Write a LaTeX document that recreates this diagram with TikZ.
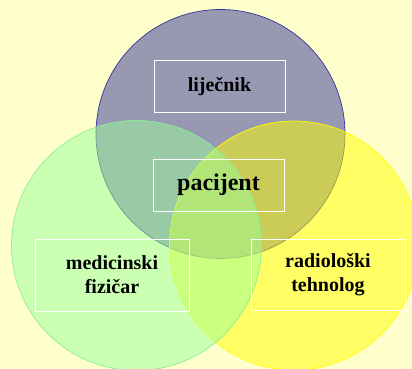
\documentclass[tikz,border=0pt]{standalone}
\usepackage{fontspec}
\setmainfont{Liberation Serif}
\definecolor{bgc}{HTML}{FFFFCC}
\definecolor{topfill}{HTML}{333399}
\definecolor{topedge}{HTML}{333399}
\definecolor{grnfill}{HTML}{99FF99}
\definecolor{grnedge}{HTML}{88EE99}
\definecolor{yelfill}{HTML}{FFFF00}
\definecolor{yeledge}{HTML}{FFFF00}
\tikzset{
  lbl/.style={draw=white, line width=1pt, align=center, font=\bfseries\fontsize{20}{24}\selectfont, inner sep=0pt},
  venn/.style={fill opacity=0.5, line width=0.7pt}
}
\begin{document}
\begin{tikzpicture}[x=1pt,y=-1pt]
\useasboundingbox (0,0) rectangle (412,369);
\fill[bgc] (0,0) rectangle (412,369);
\begin{scope}
\clip (0,0) rectangle (412,369);
\draw[venn, fill=topfill, draw=topedge] (220.5,134) circle[radius=124.5];
\draw[venn, fill=yelfill, draw=yeledge] (294,245.5) circle[radius=124.5];
\draw[venn, fill=grnfill, draw=grnedge] (136.5,245.5) circle[radius=125];
\end{scope}
\node[lbl, minimum width=131pt, minimum height=51pt] (lij) at (219.5,86.5) {lije\v{c}nik};
\node[lbl, minimum width=131pt, minimum height=52pt, font=\bfseries\fontsize{24}{28}\selectfont] (pac) at (218.5,185) {pacijent};
\node[lbl, minimum width=154pt, minimum height=72pt] (med) at (112,275) {medicinski\\fizi\v{c}ar};
\node[lbl, minimum width=154pt, minimum height=71pt] (rad) at (328,274.5) {radiolo\v{s}ki\\tehnolog};
\end{tikzpicture}
\end{document}
